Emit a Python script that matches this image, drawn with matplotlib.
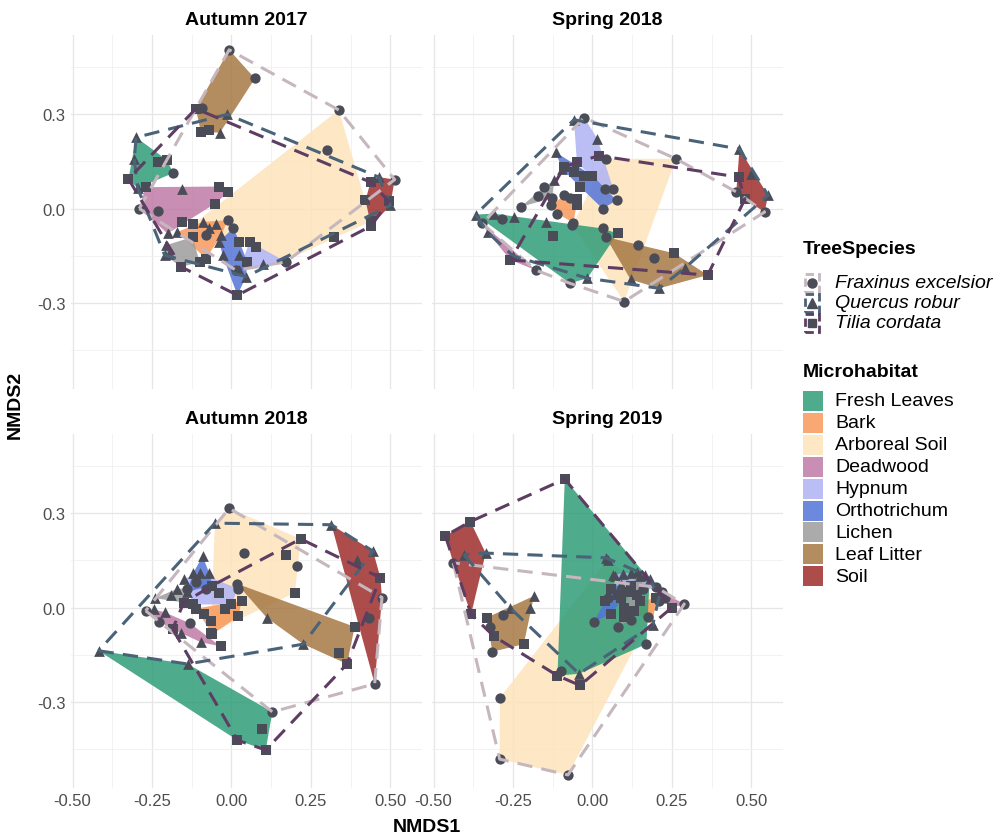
import numpy as np
import matplotlib
matplotlib.use("Agg")
import matplotlib.pyplot as plt
from matplotlib.patches import Polygon, Rectangle
from matplotlib.lines import Line2D

plt.rcParams.update({
    "font.family": ["Liberation Sans", "DejaVu Sans"],
    "axes.unicode_minus": False,
})

W, H = 1003, 837

# legend order of the microhabitats
habitats = ["Fresh Leaves", "Bark", "Arboreal Soil", "Deadwood", "Hypnum",
            "Orthotrichum", "Lichen", "Leaf Litter", "Soil"]
habitat_codes = ["FL", "BA", "AS", "DW", "HY", "OR", "LI", "LL", "SO"]
habitat_colors = ["#2f9c78", "#f9995a", "#fde3bb", "#c07aa6", "#b0b3f3",
                  "#5474d8", "#9c9c9c", "#a67844", "#9e2e2c"]

species = ["Fraxinus excelsior", "Quercus robur", "Tilia cordata"]
species_codes = ["F", "Q", "T"]
species_colors = ["#c6b7be", "#4a6379", "#5d3d62"]
species_markers = ["o", "^", "s"]

seasons = ["Autumn 2017", "Spring 2018", "Autumn 2018", "Spring 2019"]
x_ticks = [-0.5, -0.25, 0.0, 0.25, 0.5]
y_ticks = [-0.3, 0.0, 0.3]

# NMDS scores: (NMDS1, NMDS2, tree species, microhabitat)
autumn_2017 = [
    (-0.007, 0.504, "F", "LL"), (0.074, 0.413, "F", "LL"), (-0.112, 0.317, "T", "LL"),
    (-0.094, 0.319, "F", "LL"), (-0.096, 0.243, "T", "LL"), (-0.072, 0.249, "T", "LL"),
    (-0.036, 0.241, "Q", "LL"), (-0.013, 0.299, "Q", "LL"),
    (-0.300, 0.226, "Q", "FL"), (-0.306, 0.157, "Q", "FL"), (-0.324, 0.094, "T", "FL"),
    (-0.232, 0.147, "T", "FL"), (-0.204, 0.155, "T", "FL"), (-0.183, 0.113, "F", "FL"),
    (-0.295, 0.065, "Q", "FL"),
    (-0.154, 0.063, "Q", "DW"), (-0.039, 0.070, "T", "DW"), (-0.010, 0.052, "T", "DW"),
    (-0.051, 0.016, "T", "DW"), (-0.230, -0.009, "F", "DW"), (-0.290, 0.000, "F", "DW"),
    (-0.270, 0.068, "T", "DW"), (-0.155, -0.044, "T", "DW"), (-0.201, -0.079, "Q", "DW"),
    (-0.091, -0.042, "Q", "BA"), (-0.048, -0.048, "Q", "BA"), (-0.012, -0.037, "F", "BA"),
    (-0.170, -0.074, "Q", "BA"), (-0.069, -0.063, "Q", "BA"), (-0.080, -0.085, "F", "BA"),
    (-0.032, -0.085, "Q", "BA"), (-0.080, -0.159, "T", "BA"),
    (-0.205, -0.116, "Q", "LI"), (-0.195, -0.143, "Q", "LI"), (-0.210, -0.148, "Q", "LI"),
    (-0.122, -0.090, "T", "LI"), (-0.158, -0.185, "T", "LI"), (-0.100, -0.170, "T", "LI"),
    (0.006, -0.061, "F", "OR"), (-0.038, -0.105, "Q", "OR"), (0.025, -0.105, "T", "OR"),
    (-0.028, -0.148, "Q", "OR"), (0.025, -0.148, "Q", "OR"), (0.019, -0.275, "T", "OR"),
    (0.046, -0.216, "Q", "OR"), (0.050, -0.169, "T", "OR"), (0.015, -0.196, "F", "OR"),
    (0.057, -0.105, "T", "HY"), (0.078, -0.121, "T", "HY"), (0.098, -0.175, "Q", "HY"),
    (0.172, -0.169, "F", "HY"), (0.025, -0.196, "Q", "HY"),
    (0.338, 0.313, "F", "AS"), (0.300, 0.187, "F", "AS"), (0.440, -0.040, "T", "AS"),
    (0.322, -0.089, "T", "AS"), (-0.120, -0.050, "T", "AS"), (0.168, -0.166, "F", "AS"),
    (0.438, 0.084, "T", "SO"), (0.514, 0.092, "F", "SO"), (0.495, 0.024, "T", "SO"),
    (0.422, 0.026, "T", "SO"), (0.464, 0.100, "Q", "SO"), (0.440, -0.055, "T", "SO"),
    (0.500, 0.010, "Q", "SO"),
]

spring_2018 = [
    (-0.368, -0.019, "Q", "FL"), (-0.310, -0.016, "Q", "FL"), (-0.247, -0.026, "Q", "FL"),
    (-0.284, -0.032, "F", "FL"), (-0.147, -0.042, "Q", "FL"), (-0.123, -0.086, "T", "FL"),
    (-0.071, -0.237, "F", "FL"), (-0.016, -0.221, "Q", "FL"), (0.032, -0.063, "F", "FL"),
    (0.079, -0.079, "T", "FL"),
    (-0.347, -0.047, "F", "DW"), (-0.330, -0.075, "Q", "DW"), (-0.250, -0.150, "Q", "DW"),
    (-0.258, -0.163, "T", "DW"), (-0.179, -0.195, "F", "DW"),
    (0.042, -0.090, "F", "LL"), (0.142, -0.116, "F", "LL"), (0.195, -0.156, "F", "LL"),
    (0.258, -0.142, "T", "LL"), (0.290, -0.189, "Q", "LL"), (0.363, -0.211, "T", "LL"),
    (0.210, -0.253, "Q", "LL"), (0.120, -0.225, "Q", "LL"),
    (0.263, 0.158, "F", "AS"), (0.042, 0.158, "F", "AS"), (-0.063, -0.053, "F", "AS"),
    (0.100, -0.295, "F", "AS"),
    (-0.026, 0.289, "F", "HY"), (-0.058, 0.282, "Q", "HY"), (0.016, 0.221, "Q", "HY"),
    (0.021, 0.168, "T", "HY"), (0.039, 0.063, "F", "HY"), (0.065, 0.063, "F", "HY"),
    (-0.049, 0.147, "T", "HY"),
    (-0.116, 0.179, "Q", "OR"), (-0.089, 0.132, "T", "OR"), (-0.095, 0.126, "Q", "OR"),
    (-0.058, 0.116, "T", "OR"), (-0.026, 0.105, "T", "OR"), (0.000, 0.105, "T", "OR"),
    (0.032, 0.000, "F", "OR"), (0.076, 0.026, "F", "OR"), (-0.040, 0.070, "T", "OR"),
    (-0.226, 0.005, "F", "LI"), (-0.153, 0.068, "F", "LI"), (-0.127, 0.034, "F", "LI"),
    (-0.120, 0.090, "Q", "LI"), (-0.170, 0.040, "F", "LI"),
    (-0.130, 0.010, "F", "BA"), (-0.110, -0.016, "F", "BA"), (-0.070, 0.035, "F", "BA"),
    (-0.060, -0.045, "F", "BA"), (-0.089, 0.042, "F", "BA"), (-0.047, 0.032, "T", "BA"),
    (-0.050, 0.010, "T", "BA"),
    (0.463, 0.189, "Q", "SO"), (0.500, 0.110, "Q", "SO"), (0.553, 0.042, "Q", "SO"),
    (0.542, -0.011, "F", "SO"), (0.453, 0.053, "F", "SO"), (0.460, 0.100, "T", "SO"),
    (0.480, 0.030, "T", "SO"),
]

autumn_2018 = [
    (-0.418, -0.137, "Q", "FL"), (-0.138, -0.179, "Q", "FL"), (0.129, -0.331, "F", "FL"),
    (0.097, -0.384, "T", "FL"), (0.019, -0.421, "T", "FL"), (0.108, -0.452, "T", "FL"),
    (0.315, 0.263, "Q", "SO"), (0.446, 0.179, "Q", "SO"), (0.396, 0.152, "Q", "SO"),
    (0.469, 0.095, "T", "SO"), (0.474, 0.032, "F", "SO"), (0.432, -0.032, "F", "SO"),
    (0.451, -0.242, "F", "SO"),
    (0.017, 0.076, "F", "LL"), (0.111, -0.032, "Q", "LL"), (0.226, -0.116, "Q", "LL"),
    (0.388, -0.061, "T", "LL"), (0.338, -0.144, "T", "LL"), (0.364, -0.179, "T", "LL"),
    (-0.007, 0.315, "F", "AS"), (-0.052, 0.268, "Q", "AS"), (0.218, 0.218, "T", "AS"),
    (0.171, 0.168, "T", "AS"), (0.207, 0.131, "F", "AS"), (0.200, 0.047, "T", "AS"),
    (0.040, 0.173, "F", "AS"), (-0.065, -0.080, "T", "AS"),
    (-0.270, -0.010, "F", "DW"), (-0.245, -0.005, "Q", "DW"), (-0.227, -0.045, "F", "DW"),
    (-0.210, -0.015, "Q", "DW"), (-0.185, -0.068, "T", "DW"), (-0.096, -0.110, "Q", "DW"),
    (-0.034, -0.123, "T", "DW"), (-0.160, -0.080, "Q", "DW"), (-0.130, -0.050, "F", "DW"),
    (-0.112, -0.003, "T", "BA"), (-0.065, -0.042, "T", "BA"), (-0.020, -0.005, "T", "BA"),
    (0.022, -0.028, "T", "BA"), (0.032, 0.021, "T", "BA"), (-0.060, -0.085, "T", "BA"),
    (-0.085, -0.020, "T", "BA"),
    (-0.150, 0.090, "Q", "HY"), (-0.100, 0.110, "Q", "HY"), (0.020, 0.060, "F", "HY"),
    (0.000, 0.010, "T", "HY"), (-0.120, 0.010, "T", "HY"), (-0.040, 0.045, "T", "HY"),
    (-0.080, 0.060, "F", "HY"),
    (-0.091, 0.163, "Q", "OR"), (-0.120, 0.110, "Q", "OR"), (-0.140, 0.050, "Q", "OR"),
    (-0.060, 0.070, "T", "OR"), (-0.070, 0.110, "Q", "OR"), (-0.110, 0.080, "F", "OR"),
    (-0.240, 0.030, "Q", "LI"), (-0.190, 0.040, "Q", "LI"), (-0.150, 0.016, "T", "LI"),
    (-0.140, 0.060, "F", "LI"), (-0.170, 0.060, "Q", "LI"),
]

spring_2019 = [
    (-0.087, 0.408, "T", "FL"), (0.042, 0.158, "Q", "FL"), (0.180, 0.090, "Q", "FL"),
    (0.170, -0.116, "F", "FL"), (-0.042, -0.210, "Q", "FL"), (-0.100, -0.200, "F", "FL"),
    (-0.110, -0.216, "T", "FL"),
    (-0.463, 0.228, "T", "SO"), (-0.384, 0.273, "T", "SO"), (-0.405, 0.168, "Q", "SO"),
    (-0.336, 0.173, "Q", "SO"), (-0.438, 0.142, "F", "SO"), (-0.382, -0.021, "T", "SO"),
    (-0.184, 0.037, "Q", "LL"), (-0.195, 0.000, "Q", "LL"), (-0.260, 0.000, "Q", "LL"),
    (-0.281, -0.024, "F", "LL"), (-0.333, -0.032, "T", "LL"), (-0.321, -0.063, "F", "LL"),
    (-0.310, -0.091, "T", "LL"), (-0.315, -0.140, "F", "LL"), (-0.216, -0.116, "T", "LL"),
    (0.048, 0.152, "Q", "AS"), (0.210, 0.020, "F", "AS"), (-0.039, -0.247, "T", "AS"),
    (-0.077, -0.531, "F", "AS"), (-0.292, -0.481, "F", "AS"), (-0.291, -0.286, "F", "AS"),
    (0.005, -0.045, "F", "OR"), (0.040, 0.020, "T", "OR"), (0.090, 0.075, "Q", "OR"),
    (0.110, 0.050, "T", "OR"), (0.060, 0.060, "T", "OR"), (0.080, 0.040, "T", "OR"),
    (0.060, -0.020, "T", "OR"), (0.050, 0.030, "F", "OR"),
    (0.150, 0.020, "T", "BA"), (0.190, -0.055, "Q", "BA"), (0.175, -0.030, "F", "BA"),
    (0.200, 0.030, "T", "BA"), (0.130, -0.010, "T", "BA"),
    (0.289, 0.011, "F", "DW"), (0.210, 0.035, "Q", "DW"), (0.250, 0.000, "T", "DW"),
    (0.230, 0.030, "F", "DW"), (0.220, 0.050, "F", "DW"),
    (0.070, 0.100, "Q", "HY"), (0.120, 0.110, "Q", "HY"), (0.090, 0.030, "T", "HY"),
    (0.200, 0.065, "F", "HY"), (0.065, 0.105, "Q", "HY"), (0.095, 0.108, "Q", "HY"),
    (0.120, 0.070, "T", "HY"), (0.160, 0.060, "F", "HY"),
    (0.150, 0.100, "Q", "LI"), (0.100, 0.000, "T", "LI"), (0.080, -0.060, "F", "LI"),
    (0.140, 0.112, "Q", "LI"), (0.165, 0.105, "Q", "LI"), (0.140, 0.040, "T", "LI"),
    (0.100, -0.030, "T", "LI"), (0.120, -0.040, "F", "LI"),
]

panels = [autumn_2017, spring_2018, autumn_2018, spring_2019]

FILL_ALPHA = 0.85
POINT_COLOR = "#4a4d57"
TICK_COLOR = "#4d4d4d"
DASH = (0, (5, 3))
marker_sizes = {"o": 55, "^": 60, "s": 44}


def convex_hull(pts):
    pts = sorted(set(pts))
    if len(pts) < 3:
        return np.array(pts)

    def cross(o, a, b):
        return (a[0] - o[0]) * (b[1] - o[1]) - (a[1] - o[1]) * (b[0] - o[0])

    lower, upper = [], []
    for p in pts:
        while len(lower) >= 2 and cross(lower[-2], lower[-1], p) <= 0:
            lower.pop()
        lower.append(p)
    for p in reversed(pts):
        while len(upper) >= 2 and cross(upper[-2], upper[-1], p) <= 0:
            upper.pop()
        upper.append(p)
    return np.array(lower[:-1] + upper[:-1])


def draw_panel(ax, pts):
    # habitat hulls, drawn in alphabetical order of the habitat name
    for name in sorted(habitats):
        i = habitats.index(name)
        sel = [(x, y) for x, y, s, h in pts if h == habitat_codes[i]]
        if len(sel) >= 3:
            ax.add_patch(Polygon(convex_hull(sel), closed=True,
                                 facecolor=habitat_colors[i], edgecolor="none",
                                 alpha=FILL_ALPHA, zorder=2))
    for code, mk in zip(species_codes, species_markers):
        xs = [x for x, y, s, h in pts if s == code]
        ys = [y for x, y, s, h in pts if s == code]
        ax.scatter(xs, ys, marker=mk, s=marker_sizes[mk], color=POINT_COLOR,
                   linewidths=0, zorder=3)
    for code, col in zip(species_codes, species_colors):
        hull = convex_hull([(x, y) for x, y, s, h in pts if s == code])
        ring = np.vstack([hull, hull[:1]])
        ax.plot(ring[:, 0], ring[:, 1], color=col, lw=2.2, ls=DASH,
                dash_capstyle="butt", solid_capstyle="butt", zorder=4)


fig = plt.figure(figsize=(W / 100, H / 100), dpi=100)
lefts = [71, 432]
tops = [36, 435]
pw, ph = 351, 353.5

for k, (title, pts) in enumerate(zip(seasons, panels)):
    row, col = divmod(k, 2)
    ax = fig.add_axes([lefts[col] / W, 1 - (tops[row] + ph) / H, pw / W, ph / H])
    draw_panel(ax, pts)
    ax.set_xlim(-0.505, 0.60)
    ax.set_ylim(-0.571, 0.551)
    ax.set_xticks(x_ticks)
    ax.set_xticklabels([f"{v:.2f}" for v in x_ticks])
    ax.set_yticks(y_ticks)
    ax.set_yticklabels([f"{v:.1f}" for v in y_ticks])
    ax.set_xticks([-0.375, -0.125, 0.125, 0.375], minor=True)
    ax.set_yticks([-0.45, -0.15, 0.15, 0.45], minor=True)
    ax.grid(True, which="major", color="#e6e6e6", lw=0.9, zorder=0)
    ax.grid(True, which="minor", color="#f0f0f0", lw=0.6, zorder=0)
    ax.set_axisbelow(True)
    for sp in ax.spines.values():
        sp.set_visible(False)
    ax.tick_params(which="both", length=0, labelsize=12, labelcolor=TICK_COLOR,
                   pad=4, labelleft=(col == 0), labelbottom=(row == 1))
    ax.set_title(title, fontsize=14, fontweight="bold", pad=8)

fig.text(427 / W, 1 - 828 / H, "NMDS1", fontsize=14, fontweight="bold",
         ha="center", va="center")
fig.text(15 / W, 1 - 405 / H, "NMDS2", fontsize=14, fontweight="bold",
         ha="center", va="center", rotation=90)

# tree species legend
fig.text(803 / W, 1 - 250 / H, "TreeSpecies", fontsize=14, fontweight="bold",
         ha="left", va="center")
for i, (name, col, mk) in enumerate(zip(species, species_colors, species_markers)):
    yc = 284 + 20 * i
    fig.add_artist(Rectangle((805 / W, 1 - (yc + 9) / H), 14 / W, 18 / H,
                             transform=fig.transFigure, facecolor="none",
                             edgecolor=col, lw=2.0, ls=(0, (3, 1.5))))
    fig.add_artist(Line2D([812 / W], [1 - yc / H], transform=fig.transFigure,
                          marker=mk, ls="none", color=POINT_COLOR,
                          markersize=6.5 if mk != "s" else 5.8))
    fig.text(835 / W, 1 - yc / H, name, fontsize=14, style="italic",
             ha="left", va="center")

# microhabitat legend
fig.text(803 / W, 1 - 373 / H, "Microhabitat", fontsize=14, fontweight="bold",
         ha="left", va="center")
for i, (name, col) in enumerate(zip(habitats, habitat_colors)):
    yc = 402 + 21.9 * i
    fig.add_artist(Rectangle((803 / W, 1 - (yc + 10) / H), 20 / W, 20 / H,
                             transform=fig.transFigure, facecolor=col,
                             edgecolor="none", alpha=FILL_ALPHA))
    fig.text(835 / W, 1 - yc / H, name, fontsize=14, ha="left", va="center")

fig.savefig("out.png", dpi=100)
